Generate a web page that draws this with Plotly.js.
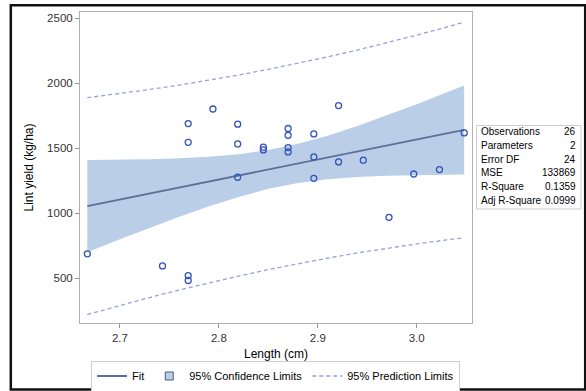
<!DOCTYPE html>
<html>
<head>
<meta charset="utf-8">
<script src="https://cdn.plot.ly/plotly-3.0.1.min.js"></script>
<style>
  html, body { margin: 0; padding: 0; background: #ffffff; }
  #chart { width: 586px; height: 391px; }
</style>
</head>
<body>
<div id="chart"></div>
<script>
// Observed lint yield by fibre length
const lengthCm = [2.667, 2.743, 2.769, 2.769, 2.769, 2.769, 2.794, 2.819, 2.819, 2.819,
                  2.845, 2.845, 2.870, 2.870, 2.870, 2.870, 2.896, 2.896, 2.896, 2.921,
                  2.921, 2.946, 2.972, 2.997, 3.023, 3.048];
const lintYield = [688, 595, 1690, 1546, 521, 483, 1802, 1685, 1533, 1277,
                   1508, 1487, 1652, 1600, 1505, 1472, 1610, 1433, 1269, 1828,
                   1395, 1408, 969, 1302, 1336, 1618];

// Regression fit with 95% confidence and prediction limits
const gridX    = [2.667, 2.70, 2.73, 2.76, 2.79, 2.82, 2.85, 2.88, 2.91, 2.94, 2.97, 3.00, 3.03, 3.048];
const fitY     = [1055, 1106, 1152, 1198, 1244, 1290, 1337, 1383, 1429, 1475, 1521, 1567, 1613, 1641];
const clmUpper = [1410, 1412, 1416, 1423, 1434, 1454, 1486, 1534, 1597, 1672, 1753, 1839, 1928, 1983];
const clmLower = [700, 800, 888, 973, 1054, 1126, 1188, 1232, 1261, 1278, 1289, 1295, 1298, 1299];
const pclUpper = [1889, 1921, 1952, 1986, 2023, 2063, 2107, 2153, 2203, 2255, 2311, 2370, 2431, 2470];
const pclLower = [221, 291, 352, 410, 465, 517, 567, 613, 655, 695, 731, 764, 795, 812];

// Fit statistics table
const statLabels = ['Observations', 'Parameters', 'Error DF', 'MSE', 'R-Square', 'Adj R-Square'];
const statValues = ['26', '2', '24', '133869', '0.1359', '0.0999'];

const FONT = 'Arial, "Liberation Sans", sans-serif';
const bandColor = 'rgb(186,206,232)';
const fitColor = 'rgb(94,112,152)';
const pclColor = 'rgb(150,160,225)';
const markColor = 'rgb(52,84,184)';

const traces = [
  {
    name: '95% Confidence Limits',
    x: gridX.concat(gridX.slice().reverse()),
    y: clmUpper.concat(clmLower.slice().reverse()),
    type: 'scatter', mode: 'lines',
    fill: 'toself', fillcolor: bandColor,
    line: { width: 0, color: bandColor },
    legendgroup: 'clm', showlegend: false, hoverinfo: 'skip'
  },
  {
    // legend swatch for the confidence band
    name: '95% Confidence Limits',
    x: [null], y: [null],
    type: 'scatter', mode: 'markers',
    marker: { symbol: 'square', size: 8, color: bandColor, line: { width: 1, color: 'rgb(80,90,120)' } },
    legendgroup: 'clm', legendrank: 2
  },
  {
    name: 'Fit',
    x: gridX, y: fitY,
    type: 'scatter', mode: 'lines',
    line: { color: fitColor, width: 1.8 },
    legendrank: 1
  },
  {
    name: '95% Prediction Limits',
    x: gridX, y: pclUpper,
    type: 'scatter', mode: 'lines',
    line: { color: pclColor, width: 1.3, dash: '4px,3px' },
    legendgroup: 'pcl', legendrank: 3
  },
  {
    name: '95% Prediction Limits',
    x: gridX, y: pclLower,
    type: 'scatter', mode: 'lines',
    line: { color: pclColor, width: 1.3, dash: '4px,3px' },
    legendgroup: 'pcl', showlegend: false
  },
  {
    name: 'Lint yield',
    x: lengthCm, y: lintYield,
    type: 'scatter', mode: 'markers',
    marker: { symbol: 'circle-open', size: 6, color: markColor, line: { width: 1.3, color: markColor } },
    showlegend: false
  }
];

// Plot area: x 80..472 px, y 12..323 px
const plotW = 392, plotH = 311, plotL = 80, plotT = 12;
const px = v => (v - plotL) / plotW;
const py = v => (plotT + plotH - v) / plotH;

const annotations = [];
const rowY = [131.7, 145.5, 159.3, 173.0, 186.7, 200.4];
statLabels.forEach((lab, i) => {
  annotations.push({
    xref: 'paper', yref: 'paper', x: px(479), y: py(rowY[i]),
    xanchor: 'left', yanchor: 'middle', showarrow: false,
    text: lab, font: { family: FONT, size: 10, color: '#000' }
  });
  annotations.push({
    xref: 'paper', yref: 'paper', x: px(578), y: py(rowY[i]),
    xanchor: 'right', yanchor: 'middle', showarrow: false,
    text: statValues[i], font: { family: FONT, size: 10, color: '#000' }
  });
});

const shapes = [
  // statistics table border
  { type: 'rect', xref: 'paper', yref: 'paper',
    x0: px(476.5), x1: px(581), y0: py(125.5), y1: py(209),
    line: { color: 'rgb(205,205,205)', width: 1 }, fillcolor: 'rgba(0,0,0,0)' },
  // outer frame
  { type: 'rect', xref: 'paper', yref: 'paper',
    x0: px(10.8), x1: px(585.2), y0: py(5.2), y1: py(389.6),
    line: { color: '#111', width: 2.5 }, fillcolor: 'rgba(0,0,0,0)' }
];

const axisCommon = {
  showgrid: false, zeroline: false, automargin: false,
  showline: true, mirror: true, linecolor: 'rgb(176,176,176)', linewidth: 1,
  ticks: 'outside', ticklen: 4, tickcolor: 'rgb(150,150,150)', tickwidth: 1,
  tickfont: { family: FONT, size: 11.5, color: '#333' }
};

const layout = {
  width: 586, height: 391,
  margin: { l: 80, r: 114, t: 12, b: 68, autoexpand: false },
  paper_bgcolor: '#ffffff', plot_bgcolor: '#ffffff',
  showlegend: true,
  xaxis: Object.assign({}, axisCommon, {
    range: [2.6596, 3.0559],
    tickvals: [2.7, 2.8, 2.9, 3.0], ticktext: ['2.7', '2.8', '2.9', '3.0'],
    title: { text: 'Length (cm)', font: { family: FONT, size: 12, color: '#000' }, standoff: 6 }
  }),
  yaxis: Object.assign({}, axisCommon, {
    range: [156, 2548],
    tickvals: [500, 1000, 1500, 2000, 2500],
    title: { text: 'Lint yield (kg/ha)', font: { family: FONT, size: 12, color: '#000' }, standoff: 10 }
  }),
  legend: {
    orientation: 'h', x: px(275.5), xanchor: 'center', y: py(376), yanchor: 'middle',
    bgcolor: '#ffffff', bordercolor: 'rgb(205,205,205)', borderwidth: 1,
    font: { family: FONT, size: 11, color: '#000' },
    traceorder: 'normal', itemwidth: 30
  },
  annotations: annotations,
  shapes: shapes
};

Plotly.newPlot('chart', traces, layout, { displayModeBar: false, staticPlot: true });
</script>
</body>
</html>
